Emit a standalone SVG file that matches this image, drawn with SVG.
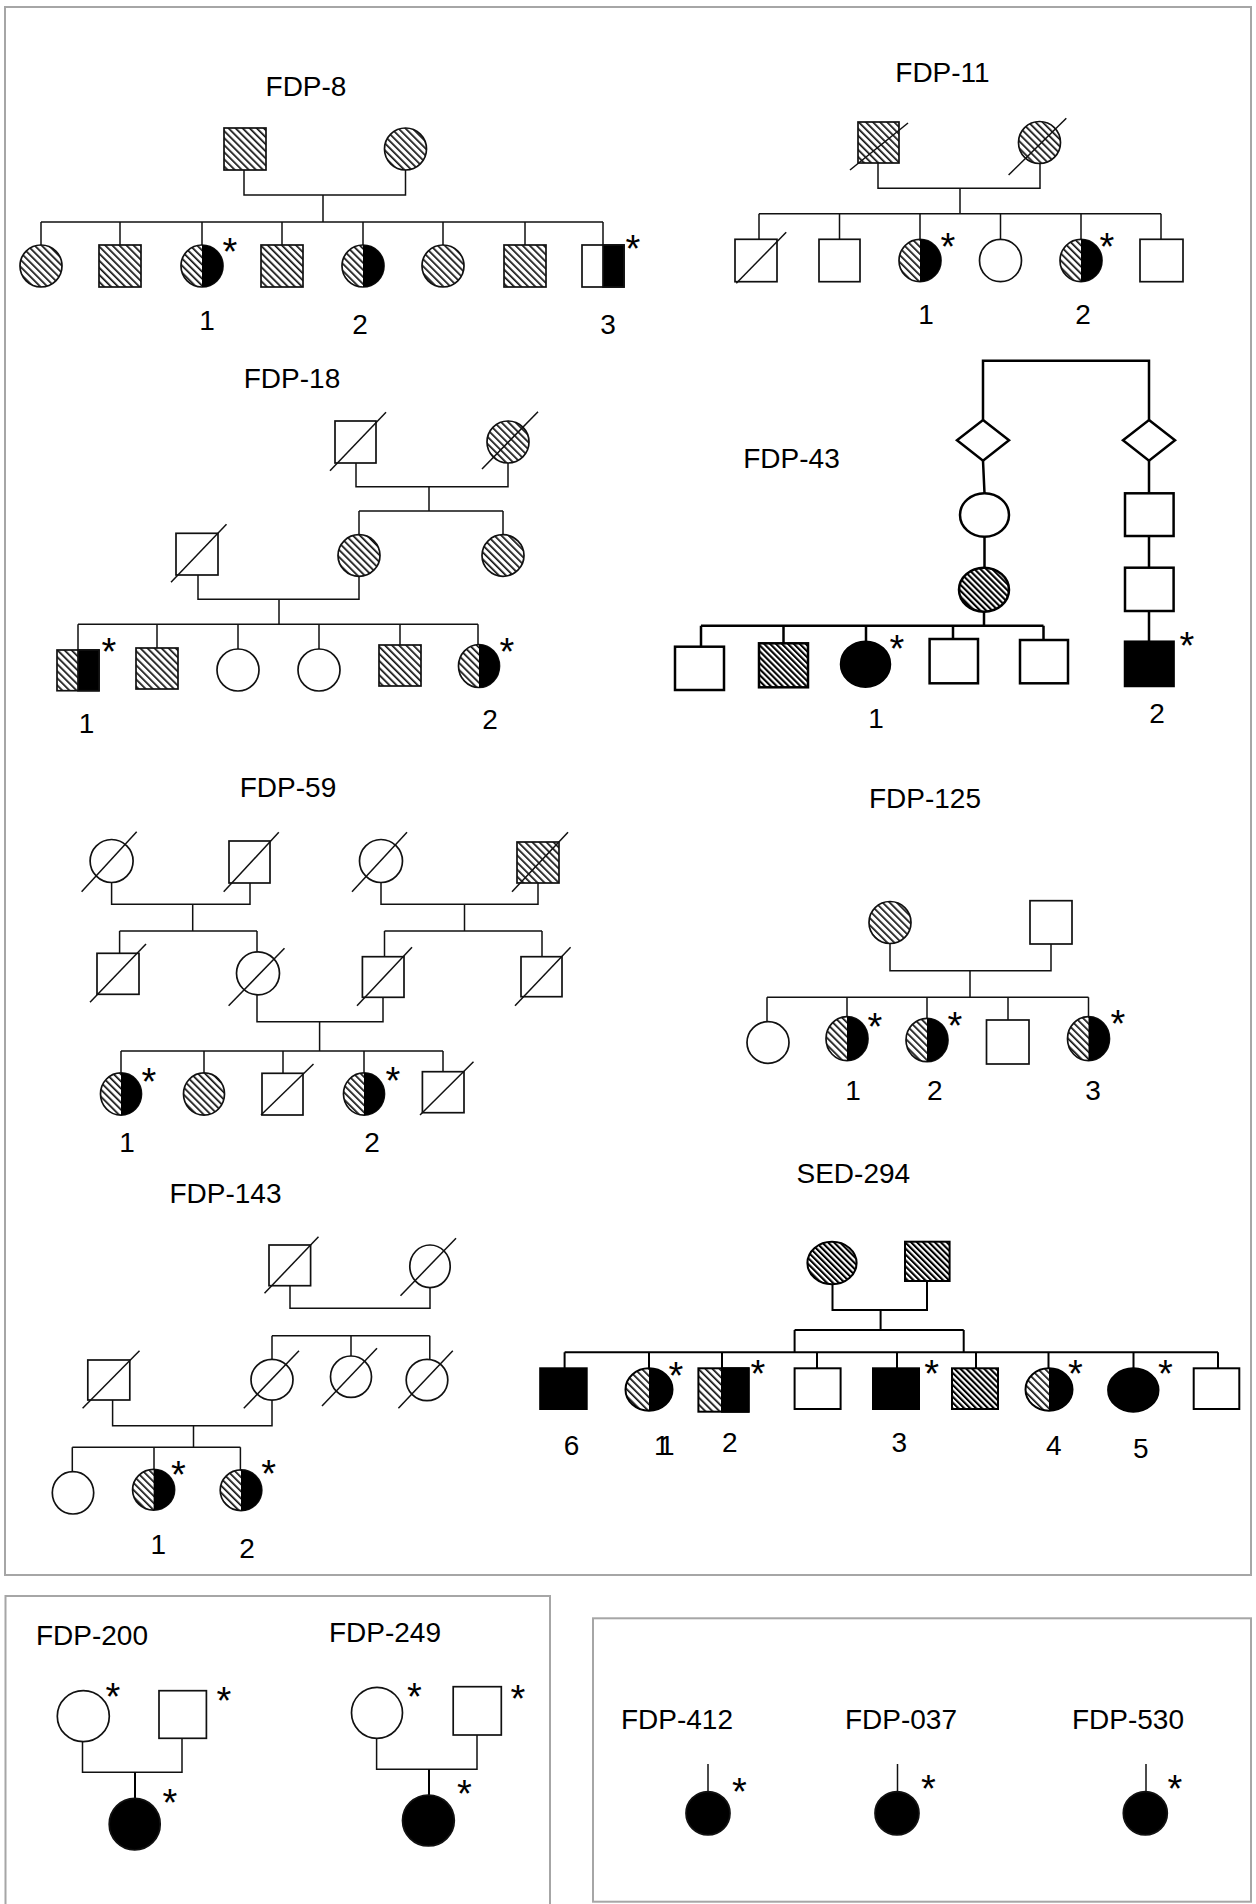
<svg xmlns="http://www.w3.org/2000/svg" width="1256" height="1904" viewBox="0 0 1256 1904">
<defs>
<pattern id="h" width="5" height="5" patternUnits="userSpaceOnUse" patternTransform="rotate(-45)"><rect width="5" height="5" fill="#fff"/><rect width="1.7" height="5" fill="#111"/></pattern>
<pattern id="hd" width="4.2" height="4.2" patternUnits="userSpaceOnUse" patternTransform="rotate(-45)"><rect width="4.2" height="4.2" fill="#fff"/><rect width="2.1" height="4.2" fill="#000"/></pattern>
</defs>
<style>
.panel{fill:none;stroke:#a6a6a6;stroke-width:2}
.ln{fill:none;stroke:#111;stroke-width:1.5}
.thk{fill:none;stroke:#000;stroke-width:2.5}
.med{fill:none;stroke:#000;stroke-width:2}
.s{stroke:#111;stroke-width:1.7}
.s2{stroke:#000;stroke-width:2.5}
.s3{stroke:#000;stroke-width:2}
.w{fill:#fff}
.h{fill:url(#h)}
.hd{fill:url(#hd)}
.b{fill:#000}
.d{fill:none;stroke:#111;stroke-width:1.5}
text{font-family:"Liberation Sans",Arial,sans-serif;fill:#000;text-anchor:middle}
.lbl{font-size:28px}
.num{font-size:28px}
.ast{font-size:38px}
</style>
<rect id="panel-top" class="panel" x="5" y="7" width="1246" height="1568"/>
<path id="panel-bl" class="panel" d="M5.5 1910 V1596 H550 V1910"/>
<rect id="panel-br" class="panel" x="593" y="1618.3" width="658" height="283.4"/>

<!-- ================= FDP-8 ================= -->
<g id="fdp8">
<text class="lbl" x="306" y="96">FDP-8</text>
<g id="connectors-fdp8"><path class="ln" d="M244 170 V195 H405.5 V170 M323 195 V222 M41 222 H603 M41 222 V245 M120 222 V245 M202 222 V245 M282 222 V245 M363 222 V245 M443 222 V245 M525 222 V245 M603 222 V245"/></g>
<g id="fdp8-I1"><rect class="s h" x="224" y="128" width="42" height="42"/></g>
<g id="fdp8-I2"><circle class="s h" cx="405.5" cy="149" r="21"/></g>
<g id="fdp8-c1"><ellipse class="s h" cx="41" cy="266" rx="21" ry="21"/></g>
<g id="fdp8-c2"><rect class="s h" x="99" y="245" width="42" height="42"/></g>
<g id="fdp8-c3"><ellipse class="s h" cx="202" cy="266" rx="21" ry="21"/><path class="b" d="M202 245 A21 21 0 0 1 202 287 Z"/><text class="ast" x="230" y="265">*</text><text class="num" x="207" y="330">1</text></g>
<g id="fdp8-c4"><rect class="s h" x="261" y="245" width="42" height="42"/></g>
<g id="fdp8-c5"><ellipse class="s h" cx="363" cy="266" rx="21" ry="21"/><path class="b" d="M363 245 A21 21 0 0 1 363 287 Z"/><text class="num" x="360" y="334">2</text></g>
<g id="fdp8-c6"><ellipse class="s h" cx="443" cy="266" rx="21" ry="21"/></g>
<g id="fdp8-c7"><rect class="s h" x="504" y="245" width="42" height="42"/></g>
<g id="fdp8-c8"><rect class="s w" x="582" y="245" width="42" height="42"/><rect class="s b" x="603" y="245" width="21" height="42"/><text class="ast" x="633" y="262">*</text><text class="num" x="608" y="334">3</text></g>
</g>

<!-- ================= FDP-11 ================= -->
<g id="fdp11">
<text class="lbl" x="942.5" y="82">FDP-11</text>
<g id="connectors-fdp11"><path class="ln" d="M878 163 V188.3 H1040 V163.5 M960 188.3 V213.7 M759 213.7 H1161 M759 213.7 V239.3 M839.5 213.7 V239.3 M920 213.7 V239.3 M1000.5 213.7 V239.3 M1081 213.7 V239.3 M1161 213.7 V239.3"/></g>
<g id="fdp11-I1"><rect class="s h" x="858" y="122" width="41" height="41"/><line class="d" x1="850" y1="170" x2="908" y2="123"/></g>
<g id="fdp11-I2"><circle class="s h" cx="1039.5" cy="142.5" r="21"/><line class="d" x1="1008.6" y1="175" x2="1066.3" y2="118.3"/></g>
<g id="fdp11-c1"><rect class="s w" x="735" y="239.3" width="42" height="42.4"/><line class="d" x1="736.3" y1="283.3" x2="786.2" y2="232.3"/></g>
<g id="fdp11-c2"><rect class="s w" x="819" y="239.3" width="41" height="42.4"/></g>
<g id="fdp11-c3"><ellipse class="s h" cx="920" cy="260.5" rx="21" ry="21.2"/><path class="b" d="M920 239.3 A21 21.2 0 0 1 920 281.7 Z"/><text class="ast" x="948" y="260">*</text><text class="num" x="926" y="324">1</text></g>
<g id="fdp11-c4"><ellipse class="s w" cx="1000.5" cy="260.5" rx="21" ry="21.2"/></g>
<g id="fdp11-c5"><ellipse class="s h" cx="1081" cy="260.5" rx="21" ry="21.2"/><path class="b" d="M1081 239.3 A21 21.2 0 0 1 1081 281.7 Z"/><text class="ast" x="1107" y="259.5">*</text><text class="num" x="1083" y="324">2</text></g>
<g id="fdp11-c6"><rect class="s w" x="1140" y="239.3" width="43" height="42.4"/></g>
</g>

<!-- ================= FDP-18 ================= -->
<g id="fdp18">
<text class="lbl" x="292" y="388">FDP-18</text>
<g id="connectors-fdp18"><path class="ln" d="M356 463 V486.7 H508 V463 M429 486.7 V511 M359 511 H503 M359 511 V535 M503 511 V535 M198 575 V599.3 H359 V576 M279 599.3 V624.3 M78 624.3 H478 M78 624.3 V650 M157 624.3 V648 M238 624.3 V649 M319 624.3 V649 M400 624.3 V645 M478 624.3 V644.5"/></g>
<g id="fdp18-I1"><rect class="s w" x="335" y="421" width="41" height="42"/><line class="d" x1="330" y1="470.7" x2="386" y2="412.3"/></g>
<g id="fdp18-I2"><circle class="s h" cx="508" cy="442" r="21"/><line class="d" x1="482" y1="469" x2="538" y2="411.7"/></g>
<g id="fdp18-II1"><rect class="s w" x="176" y="533.3" width="42" height="41.7"/><line class="d" x1="171" y1="582.3" x2="226.5" y2="524.3"/></g>
<g id="fdp18-II2"><ellipse class="s h" cx="359" cy="555.5" rx="21" ry="20.8"/></g>
<g id="fdp18-II3"><ellipse class="s h" cx="503" cy="555.5" rx="21" ry="20.8"/></g>
<g id="fdp18-c1"><rect class="s h" x="57" y="650" width="42" height="40.7"/><rect class="s b" x="78" y="650" width="21" height="40.7"/><text class="ast" x="109" y="665">*</text><text class="num" x="86.5" y="732.7">1</text></g>
<g id="fdp18-c2"><rect class="s h" x="136" y="648" width="42" height="41"/></g>
<g id="fdp18-c3"><ellipse class="s w" cx="238" cy="670" rx="21" ry="21"/></g>
<g id="fdp18-c4"><ellipse class="s w" cx="319" cy="670" rx="21" ry="21"/></g>
<g id="fdp18-c5"><rect class="s h" x="379" y="645" width="42" height="41"/></g>
<g id="fdp18-c6"><ellipse class="s h" cx="479" cy="666" rx="20.5" ry="21.5"/><path class="b" d="M479 644.5 A20.5 21.5 0 0 1 479 687.5 Z"/><text class="ast" x="507" y="665">*</text><text class="num" x="490" y="729.3">2</text></g>
</g>

<!-- ================= FDP-43 ================= -->
<g id="fdp43">
<text class="lbl" x="791.5" y="467.7">FDP-43</text>
<g id="connectors-fdp43"><path class="thk" d="M983 420 V360.7 H1149 V420 M983 460.7 L984.5 493.3 M984.5 536.7 V567.7 M984 611.7 V625.7 M701 625.7 H1043.5 M701 625.7 V646.7 M783.5 625.7 V643.3 M866 625.7 V641.7 M953 625.7 V639 M1043.5 625.7 V640 M1149 460.7 V493.3 M1149 536 V567.7 M1149 611 V641.7"/></g>
<g id="fdp43-d1"><polygon class="s2 w" points="983,420 1009,440.3 983,460.7 957,440.3"/></g>
<g id="fdp43-d2"><polygon class="s2 w" points="1149,420 1175,440.3 1149,460.7 1123,440.3"/></g>
<g id="fdp43-II1"><ellipse class="s2 w" cx="984.5" cy="515" rx="24.5" ry="21.7"/></g>
<g id="fdp43-III1"><ellipse class="s2 hd" cx="984" cy="589.7" rx="25" ry="22"/></g>
<g id="fdp43-c1"><rect class="s2 w" x="675" y="646.7" width="49" height="43.3"/></g>
<g id="fdp43-c2"><rect class="s2 hd" x="759" y="643.3" width="49" height="44"/></g>
<g id="fdp43-c3"><ellipse class="s2 b" cx="865.5" cy="664.2" rx="24.5" ry="22.5"/><text class="ast" x="897" y="662">*</text><text class="num" x="876" y="728.3">1</text></g>
<g id="fdp43-c4"><rect class="s2 w" x="929.6" y="639" width="48.4" height="44.3"/></g>
<g id="fdp43-c5"><rect class="s2 w" x="1020" y="640" width="48" height="43.3"/></g>
<g id="fdp43-r1"><rect class="s2 w" x="1125" y="493.3" width="48.6" height="42.7"/></g>
<g id="fdp43-r2"><rect class="s2 w" x="1125" y="567.7" width="48.6" height="43.3"/></g>
<g id="fdp43-r3"><rect class="s2 b" x="1125" y="641.7" width="48.6" height="44.3"/><text class="ast" x="1187" y="658.7">*</text><text class="num" x="1157" y="723.3">2</text></g>
</g>

<!-- ================= FDP-59 ================= -->
<g id="fdp59">
<text class="lbl" x="288" y="796.7">FDP-59</text>
<g id="connectors-fdp59"><path class="ln" d="M111.6 882.5 V904.3 H250 V883 M192.7 904.3 V931 M119.6 931 H257 M119.6 931 V953.3 M257 931 V951.7 M381 882.5 V904.3 H538 V883 M464.5 904.3 V931 M384.5 931 H542 M384.5 931 V956.7 M542 931 V956.7 M257 995 V1021.7 H383 V997.3 M319.6 1021.7 V1051 M121 1051 H443 M121 1051 V1072.7 M204 1051 V1072.7 M283 1051 V1073.3 M364 1051 V1072.7 M443 1051 V1071.7"/></g>
<g id="fdp59-I1"><circle class="s w" cx="111.6" cy="861" r="21.5"/><line class="d" x1="81.6" y1="891.7" x2="136.7" y2="831.7"/></g>
<g id="fdp59-I2"><rect class="s w" x="229" y="841" width="41" height="42"/><line class="d" x1="223.7" y1="891.7" x2="278.8" y2="832.3"/></g>
<g id="fdp59-I3"><circle class="s w" cx="381" cy="861" r="21.5"/><line class="d" x1="352" y1="891.7" x2="407" y2="832.3"/></g>
<g id="fdp59-I4"><rect class="s h" x="517" y="842" width="42" height="41"/><line class="d" x1="512" y1="891.7" x2="568" y2="832.3"/></g>
<g id="fdp59-II1"><rect class="s w" x="97" y="953.3" width="42" height="41"/><line class="d" x1="90" y1="1002.3" x2="146" y2="944"/></g>
<g id="fdp59-II2"><circle class="s w" cx="258" cy="973.3" r="21.5"/><line class="d" x1="228.6" y1="1005.7" x2="284.5" y2="948.3"/></g>
<g id="fdp59-II3"><rect class="s w" x="362.4" y="956.7" width="41.6" height="40.6"/><line class="d" x1="357" y1="1005.7" x2="412" y2="947.3"/></g>
<g id="fdp59-II4"><rect class="s w" x="521" y="956.7" width="41" height="40"/><line class="d" x1="515" y1="1005.7" x2="570.6" y2="947.3"/></g>
<g id="fdp59-c1"><ellipse class="s h" cx="121" cy="1094" rx="20.5" ry="21.2"/><path class="b" d="M121 1072.8 A20.5 21.2 0 0 1 121 1115.2 Z"/><text class="ast" x="149" y="1095">*</text><text class="num" x="127" y="1151.7">1</text></g>
<g id="fdp59-c2"><ellipse class="s h" cx="204" cy="1094" rx="20.5" ry="21.2"/></g>
<g id="fdp59-c3"><rect class="s w" x="262" y="1073.3" width="41" height="41.7"/><line class="d" x1="261" y1="1115" x2="313.5" y2="1064"/></g>
<g id="fdp59-c4"><ellipse class="s h" cx="364" cy="1094" rx="20.5" ry="21.2"/><path class="b" d="M364 1072.8 A20.5 21.2 0 0 1 364 1115.2 Z"/><text class="ast" x="393" y="1093.7">*</text><text class="num" x="372" y="1151.7">2</text></g>
<g id="fdp59-c5"><rect class="s w" x="422.4" y="1071.7" width="41.6" height="41"/><line class="d" x1="420" y1="1115" x2="473.5" y2="1061.7"/></g>
</g>

<!-- ================= FDP-125 ================= -->
<g id="fdp125">
<text class="lbl" x="925" y="807.7">FDP-125</text>
<g id="connectors-fdp125"><path class="ln" d="M890 943.3 V970.7 H1051 V944 M970 970.7 V997.3 M767 997.3 H1088.5 M767 997.3 V1021.7 M847 997.3 V1016.7 M927 997.3 V1018.3 M1008 997.3 V1020 M1088.5 997.3 V1016.7"/></g>
<g id="fdp125-I1"><circle class="s h" cx="890" cy="922.5" r="21"/></g>
<g id="fdp125-I2"><rect class="s w" x="1030" y="900.7" width="42" height="43.3"/></g>
<g id="fdp125-c1"><ellipse class="s w" cx="768" cy="1042.5" rx="21" ry="20.8"/></g>
<g id="fdp125-c2"><ellipse class="s h" cx="847" cy="1038.7" rx="21" ry="22"/><path class="b" d="M847 1016.7 A21 22 0 0 1 847 1060.7 Z"/><text class="ast" x="875" y="1040.3">*</text><text class="num" x="853" y="1100">1</text></g>
<g id="fdp125-c3"><ellipse class="s h" cx="927" cy="1040" rx="21" ry="21.7"/><path class="b" d="M927 1018.3 A21 21.7 0 0 1 927 1061.7 Z"/><text class="ast" x="955" y="1038.7">*</text><text class="num" x="934.7" y="1100">2</text></g>
<g id="fdp125-c4"><rect class="s w" x="986.5" y="1020" width="42.5" height="44"/></g>
<g id="fdp125-c5"><ellipse class="s h" cx="1088.5" cy="1038.7" rx="21" ry="22"/><path class="b" d="M1088.5 1016.7 A21 22 0 0 1 1088.5 1060.7 Z"/><text class="ast" x="1118" y="1037">*</text><text class="num" x="1093" y="1100">3</text></g>
</g>

<!-- ================= FDP-143 ================= -->
<g id="fdp143">
<text class="lbl" x="225.5" y="1202.7">FDP-143</text>
<g id="connectors-fdp143"><path class="ln" d="M290 1285.7 V1308.3 H430 V1287.7 M272 1335.7 H429.8 M272 1335.7 V1359.3 M351 1335.7 V1356 M429.8 1335.7 V1359.3 M112.6 1400 V1425.7 H272 V1400 M193.5 1425.7 V1447.3 M72.3 1447.3 H240.4 M72.3 1447.3 V1471.7 M154 1447.3 V1469.3 M240.4 1447.3 V1470"/></g>
<g id="fdp143-I1"><rect class="s w" x="269" y="1245" width="41.6" height="40.7"/><line class="d" x1="264.5" y1="1293.3" x2="318.5" y2="1236.7"/></g>
<g id="fdp143-I2"><ellipse class="s w" cx="430" cy="1266.3" rx="20.2" ry="21.3"/><line class="d" x1="400.5" y1="1295.7" x2="456" y2="1238.3"/></g>
<g id="fdp143-II1"><rect class="s w" x="87.8" y="1360" width="42" height="40"/><line class="d" x1="82.6" y1="1408.3" x2="139.5" y2="1350.7"/></g>
<g id="fdp143-II2"><ellipse class="s w" cx="272" cy="1379.7" rx="21" ry="20.4"/><line class="d" x1="243.8" y1="1408.3" x2="299" y2="1350.7"/></g>
<g id="fdp143-II3"><ellipse class="s w" cx="351" cy="1376.7" rx="20.5" ry="20.7"/><line class="d" x1="322" y1="1406" x2="377" y2="1348.3"/></g>
<g id="fdp143-II4"><ellipse class="s w" cx="427" cy="1380" rx="20.8" ry="20.7"/><line class="d" x1="398.4" y1="1408.3" x2="452.8" y2="1350.7"/></g>
<g id="fdp143-c1"><ellipse class="s w" cx="73" cy="1492.8" rx="20.7" ry="21.2"/></g>
<g id="fdp143-c2"><ellipse class="s h" cx="153.6" cy="1489.7" rx="21" ry="20.4"/><path class="b" d="M153.6 1469.3 A21 20.4 0 0 1 153.6 1510.1 Z"/><text class="ast" x="178.4" y="1488">*</text><text class="num" x="158.4" y="1554.3">1</text></g>
<g id="fdp143-c3"><ellipse class="s h" cx="241" cy="1490.3" rx="20.8" ry="20.4"/><path class="b" d="M241 1469.9 A20.8 20.4 0 0 1 241 1510.7 Z"/><text class="ast" x="268.6" y="1487">*</text><text class="num" x="247" y="1558.3">2</text></g>
</g>

<!-- ================= SED-294 ================= -->
<g id="sed294">
<text class="lbl" x="853.3" y="1183.3">SED-294</text>
<g id="connectors-sed294"><path class="med" d="M832.5 1284.3 V1310 H927 V1281 M880.6 1310 V1330 M794.6 1330 H963.7 M794.6 1330 V1352.3 M963.7 1330 V1352.3 M564.6 1352.3 H1218 M564.6 1352.3 V1368.3 M649 1352.3 V1368.3 M722 1352.3 V1368.3 M817 1352.3 V1368.3 M897 1352.3 V1368.3 M976 1352.3 V1368.3 M1048.5 1352.3 V1368.3 M1133.5 1352.3 V1368.3 M1218 1352.3 V1370"/></g>
<g id="sed294-I1"><ellipse class="s3 hd" cx="832" cy="1263" rx="24.6" ry="21.3"/></g>
<g id="sed294-I2"><rect class="s3 hd" x="905" y="1241.7" width="44.6" height="39.3"/></g>
<g id="sed294-c1"><rect class="s3 b" x="540.2" y="1368.3" width="46.5" height="40.7"/><text class="num" x="571.6" y="1455">6</text></g>
<g id="sed294-c2"><ellipse class="s3 h" cx="649" cy="1389.5" rx="23.5" ry="21.2"/><path class="b" d="M649 1368.3 A23.5 21.2 0 0 1 649 1410.7 Z"/><text class="ast" x="675.9" y="1388.7">*</text><text class="num" x="660" y="1455" letter-spacing="-8.6">11</text></g>
<g id="sed294-c3"><rect class="s3 h" x="698.4" y="1368.3" width="50.2" height="43.4"/><rect class="s3 b" x="722" y="1368.3" width="26.6" height="43.4"/><text class="ast" x="758" y="1387">*</text><text class="num" x="729.9" y="1451.7">2</text></g>
<g id="sed294-c4"><rect class="s3 w" x="794.6" y="1368.3" width="46" height="40.7"/></g>
<g id="sed294-c5"><rect class="s3 b" x="873" y="1368.3" width="46" height="40.7"/><text class="ast" x="931.7" y="1387">*</text><text class="num" x="899.3" y="1451.7">3</text></g>
<g id="sed294-c6"><rect class="s3 hd" x="952" y="1368.3" width="46" height="40.7"/></g>
<g id="sed294-c7"><ellipse class="s3 h" cx="1049" cy="1389.5" rx="23.5" ry="21.2"/><path class="b" d="M1049 1368.3 A23.5 21.2 0 0 1 1049 1410.7 Z"/><text class="ast" x="1075.4" y="1387">*</text><text class="num" x="1053.8" y="1455">4</text></g>
<g id="sed294-c8"><ellipse class="s3 b" cx="1133.3" cy="1390" rx="25.2" ry="21.7"/><text class="ast" x="1165.5" y="1387">*</text><text class="num" x="1140.7" y="1458.3">5</text></g>
<g id="sed294-c9"><rect class="s3 w" x="1193.7" y="1368.3" width="45.6" height="40.7"/></g>
</g>

<!-- ================= FDP-200 ================= -->
<g id="fdp200">
<text class="lbl" x="92" y="1645">FDP-200</text>
<g id="connectors-fdp200"><path class="ln" d="M82.5 1741.7 V1772.3 H182 V1738.3"/><path class="med" d="M135 1772.3 V1798.3"/></g>
<g id="fdp200-I1"><ellipse class="s w" cx="83.3" cy="1716.2" rx="26" ry="25.5"/><text class="ast" x="112.8" y="1710.3">*</text></g>
<g id="fdp200-I2"><rect class="s w" x="159" y="1690.7" width="47.4" height="47.6"/><text class="ast" x="223.8" y="1714">*</text></g>
<g id="fdp200-II1"><ellipse class="s b" cx="134.7" cy="1824.2" rx="25.5" ry="25.8"/><text class="ast" x="170" y="1816">*</text></g>
</g>

<!-- ================= FDP-249 ================= -->
<g id="fdp249">
<text class="lbl" x="385" y="1641.7">FDP-249</text>
<g id="connectors-fdp249"><path class="ln" d="M376.6 1738.3 V1769.3 H477 V1735"/><path class="med" d="M429 1769.3 V1795"/></g>
<g id="fdp249-I1"><ellipse class="s w" cx="377" cy="1712.8" rx="25.5" ry="25.5"/><text class="ast" x="414.4" y="1710">*</text></g>
<g id="fdp249-I2"><rect class="s w" x="453.2" y="1686.7" width="48.1" height="48.3"/><text class="ast" x="518" y="1712">*</text></g>
<g id="fdp249-II1"><ellipse class="s b" cx="428.4" cy="1820.5" rx="25.9" ry="25.5"/><text class="ast" x="464.3" y="1807">*</text></g>
</g>

<!-- ================= singletons ================= -->
<g id="fdp412">
<text class="lbl" x="677" y="1729.3">FDP-412</text>
<g id="connectors-fdp412"><path class="ln" d="M708 1764 V1791.7"/></g>
<ellipse class="s b" cx="708" cy="1813.3" rx="22" ry="21.7"/><text class="ast" x="739.5" y="1805.3">*</text>
</g>
<g id="fdp037">
<text class="lbl" x="901" y="1729.3">FDP-037</text>
<g id="connectors-fdp037"><path class="ln" d="M897.5 1764 V1791.7"/></g>
<ellipse class="s b" cx="897" cy="1813.3" rx="22" ry="21.7"/><text class="ast" x="928.4" y="1802">*</text>
</g>
<g id="fdp530">
<text class="lbl" x="1128" y="1729.3">FDP-530</text>
<g id="connectors-fdp530"><path class="ln" d="M1146 1764 V1791.7"/></g>
<ellipse class="s b" cx="1145.3" cy="1813.3" rx="22" ry="21.7"/><text class="ast" x="1175" y="1802">*</text>
</g>
</svg>
